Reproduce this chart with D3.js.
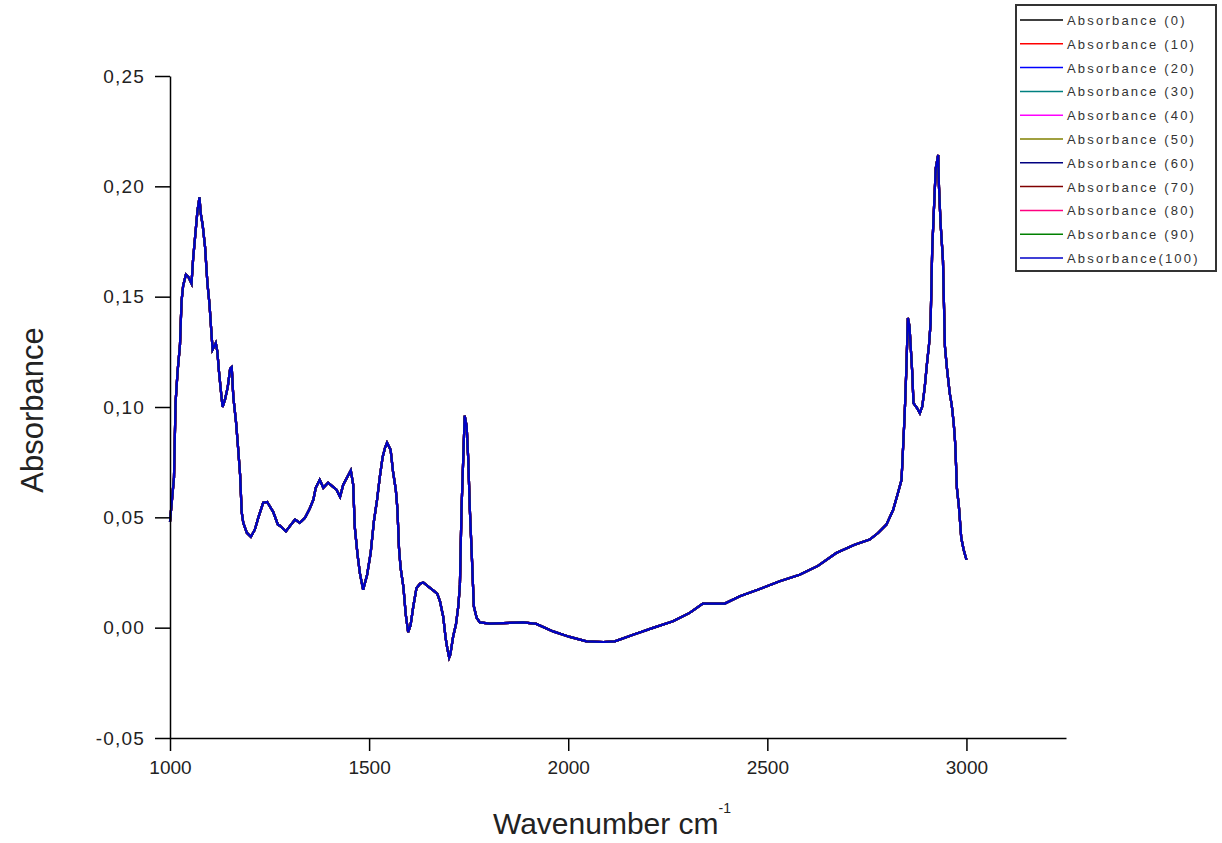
<!DOCTYPE html>
<html>
<head>
<meta charset="utf-8">
<script src="https://cdn.jsdelivr.net/npm/d3@7"></script>
<style>
body { margin: 0; background: #fff; }
text { font-family: "Liberation Sans", Arial, sans-serif; }
</style>
</head>
<body>
<div id="chart"></div>
<script>
// FTIR spectrum (all series overlap)
const wavenumber = [1000,1004,1010,1014,1019,1025,1029,1033,1040,1046,1054,1058,1064,1069,1074,1077,1082,1088,1094,1099,
  1103,1107,1115,1119,1123,1128,1132,1138,1145,1151,1155,1159,1166,1171,1176,1180,1184,1193,1203,1213,
  1222,1234,1244,1259,1271,1276,1291,1301,1314,1326,1339,1351,1360,1366,1376,1385,1397,1408,1418,1427,
  1435,1443,1454,1460,1464,1471,1477,1485,1495,1504,1512,1520,1527,1534,1540,1545,1554,1560,1567,1571,
  1575,1579,1586,1592,1598,1604,1611,1619,1628,1636,1648,1661,1671,1678,1686,1692,1696,1701,1704,1711,
  1718,1724,1728,1732,1736,1740,1745,1749,1753,1758,1763,1770,1778,1803,1887,1920,1962,2004,2046,2088,
  2117,2163,2213,2263,2305,2338,2393,2431,2481,2531,2581,2627,2673,2719,2757,2778,2799,2816,2828,2837,
  2841,2845,2849,2853,2857,2860,2864,2867,2876,2883,2889,2895,2901,2906,2910,2914,2919,2923,2929,2931,
  2935,2941,2946,2951,2958,2963,2968,2972,2976,2981,2987,2993,3000]
const absorbance = [0.048,0.056,0.068,0.102,0.116,0.128,0.148,0.155,0.160,0.159,0.156,0.167,0.179,0.189,0.195,0.188,0.1825,0.1726,0.156,0.147,
  0.1363,0.126,0.129,0.125,0.116,0.107,0.100,0.1033,0.109,0.1173,0.118,0.1046,0.0928,0.0815,0.0693,0.0525,0.0475,0.043,0.0412,0.0444,
  0.050,0.0566,0.057,0.0525,0.0467,0.0462,0.0436,0.046,0.049,0.0475,0.0498,0.054,0.058,0.0634,0.067,0.0634,0.0657,0.064,0.0625,0.0593,
  0.0648,0.0675,0.0713,0.0648,0.0457,0.033,0.0245,0.0172,0.024,0.034,0.0482,0.058,0.0685,0.0774,0.0815,0.0838,0.0806,0.0708,0.0625,0.054,
  0.0362,0.0272,0.0186,0.006,-0.002,0.001,0.0097,0.018,0.0199,0.0205,0.0187,0.0169,0.0154,0.0119,0.0051,-0.0045,-0.009,-0.0136,-0.0122,-0.004,
  0.0014,0.0097,0.0195,0.0534,0.0746,0.096,0.0912,0.076,0.0534,0.0323,0.0097,0.0045,0.0024,0.0018,0.0024,0.0017,-0.0017,-0.0042,-0.0062,-0.0065,
  -0.0062,-0.0032,-0.0001,0.0029,0.0067,0.0109,0.0109,0.0142,0.0175,0.021,0.024,0.028,0.0338,0.0376,0.0399,0.0429,0.0467,0.0534,0.061,0.067,
  0.0821,0.0972,0.1168,0.1403,0.1365,0.1274,0.1153,0.1018,0.0995,0.0972,0.1002,0.1086,0.1199,0.1282,0.138,0.1712,0.1923,0.2082,0.2142,0.1999,
  0.1833,0.1667,0.1274,0.1176,0.1063,0.101,0.0927,0.0829,0.0633,0.055,0.0406,0.0353,0.0308,0.027]

const seriesNames = ["Absorbance (0)","Absorbance (10)","Absorbance (20)","Absorbance (30)","Absorbance (40)","Absorbance (50)",
  "Absorbance (60)","Absorbance (70)","Absorbance (80)","Absorbance (90)","Absorbance(100)"]
const seriesColors = ["#000000","#ff0000","#0000ff","#008080","#ff00ff","#808000","#000080","#800000","#ff0080","#008000","#0000c8"]

const xTicks = [1000, 1500, 2000, 2500, 3000]
const yTicks = [-0.05, 0, 0.05, 0.10, 0.15, 0.20, 0.25]

const W = 1222, H = 843
const svg = d3.select("#chart").append("svg").attr("width", W).attr("height", H)

const x = d3.scaleLinear().domain([1000, 3250]).range([170, 1066])
const y = d3.scaleLinear().domain([-0.05, 0.25]).range([738, 76])

const points = wavenumber.map((w, i) => ({ w: w, a: absorbance[i] }))
const line = d3.line().x(d => x(d.w)).y(d => y(d.a))

seriesNames.forEach((name, i) => {
  svg.append("path")
    .datum(points)
    .attr("fill", "none")
    .attr("stroke", seriesColors[i])
    .attr("stroke-width", 2.2)
    .attr("d", line)
})

// axes
const fmt = d => d3.format(".2f")(d).replace(".", ",").replace("\u2212", "-")

const xAxis = svg.append("g").attr("transform", "translate(0,738)")
xAxis.call(d3.axisBottom(x).tickValues(d3.range(1250, 3251, 500)).tickSize(7).tickFormat(""))
xAxis.call(d3.axisBottom(x).tickValues(xTicks).tickSize(13).tickSizeOuter(0).tickPadding(10).tickFormat(d3.format("d")))
const yAxis = svg.append("g").attr("transform", "translate(170,0)")
yAxis.call(d3.axisLeft(y).tickValues(d3.range(-0.025, 0.25, 0.05)).tickSize(8).tickFormat(""))
yAxis.call(d3.axisLeft(y).tickValues(yTicks).tickSize(15).tickSizeOuter(0).tickPadding(10).tickFormat(fmt))

svg.selectAll(".domain").attr("stroke", "#000").attr("stroke-width", 1.5)
svg.selectAll(".tick line").attr("stroke", "#000").attr("stroke-width", 1.5)
svg.selectAll(".tick text").attr("fill", "#222").style("font-size", "19px").style("font-family", "Liberation Sans, Arial, sans-serif")
yAxis.selectAll(".tick text").style("letter-spacing", "1.2px")

// axis titles
const xt = svg.append("text").attr("x", 612).attr("y", 834).attr("text-anchor", "middle")
  .style("font-size", "30px").attr("fill", "#222")
xt.append("tspan").text("Wavenumber cm")
xt.append("tspan").text("-1").attr("dy", -21).style("font-size", "14px")

svg.append("text").attr("transform", "translate(43,410) rotate(-90)").attr("text-anchor", "middle")
  .style("font-size", "31px").attr("fill", "#222").text("Absorbance")

// legend
const lg = svg.append("g")
lg.append("rect").attr("x", 1016).attr("y", 5).attr("width", 200).attr("height", 266)
  .attr("fill", "#fff").attr("stroke", "#333").attr("stroke-width", 2)
seriesNames.forEach((name, i) => {
  const ly = 20 + i * 23.8
  lg.append("line").attr("x1", 1020).attr("x2", 1063).attr("y1", ly).attr("y2", ly)
    .attr("stroke", seriesColors[i]).attr("stroke-width", 1.5)
  lg.append("text").attr("x", 1067).attr("y", ly + 5).text(name)
    .style("font-size", "13px").style("letter-spacing", "2.2px").attr("fill", "#333")
})
</script>
</body>
</html>
